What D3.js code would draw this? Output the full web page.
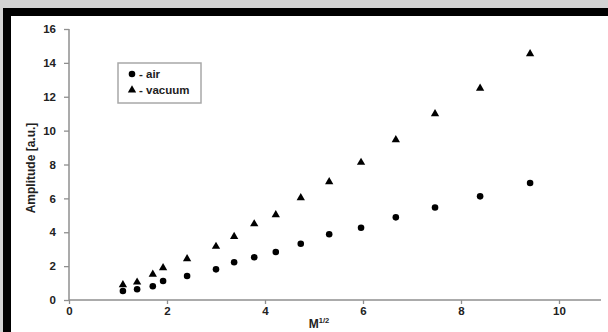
<!DOCTYPE html>
<html><head><meta charset="utf-8">
<script src="https://cdn.jsdelivr.net/npm/d3@7"></script>
<style>html,body{margin:0;padding:0;background:#d3d3d3;}svg{display:block;}</style>
</head><body>
<svg id="chart" width="608" height="332"></svg>
<script>
const xValues = [1.10,1.39,1.71,1.92,2.41,3.00,3.37,3.78,4.22,4.73,5.31,5.96,6.67,7.47,8.39,9.41];
const airValues = [0.53,0.63,0.81,1.12,1.42,1.81,2.23,2.52,2.83,3.32,3.88,4.27,4.88,5.46,6.12,6.91];
const vacuumValues = [0.93,1.08,1.55,1.93,2.46,3.19,3.78,4.52,5.06,6.06,7.01,8.15,9.49,11.02,12.53,14.56];
const xTicks = [0,2,4,6,8,10];
const yTicks = [0,2,4,6,8,10,12,14,16];
const seriesNames = ["air","vacuum"];

const svg = d3.select("#chart");
svg.append("rect").attr("x",0).attr("y",0).attr("width",608).attr("height",332).attr("fill","#d3d3d3");
svg.append("rect").attr("x",3).attr("y",8).attr("width",605).attr("height",324).attr("fill","#000");
svg.append("rect").attr("x",11).attr("y",16).attr("width",597).attr("height",316).attr("fill","#fff");

const x = d3.scaleLinear().domain([0,10]).range([69,559]);
const y = d3.scaleLinear().domain([0,16]).range([300,29]);

const axisColor = "#8f8f8f";
const textColor = "#222";
const font = "'Liberation Sans', Arial, sans-serif";

// Axes
const xAxis = svg.append("g").attr("transform","translate(0,300)")
  .call(d3.axisBottom(x).tickValues(xTicks).tickSize(4).tickPadding(3).tickSizeOuter(0));
const yAxis = svg.append("g").attr("transform","translate(69,0)")
  .call(d3.axisLeft(y).tickValues(yTicks).tickSize(5).tickPadding(8).tickSizeOuter(0));
[xAxis,yAxis].forEach(g=>{
  g.select(".domain").remove();
  g.selectAll(".tick line").attr("stroke",axisColor).attr("stroke-width",1.3);
  g.selectAll(".tick text").attr("fill",textColor).attr("font-family",font)
    .attr("font-weight","bold").attr("font-size",11.5);
});
svg.append("line").attr("x1",69).attr("x2",601).attr("y1",300).attr("y2",300)
  .attr("stroke",axisColor).attr("stroke-width",1.5);
svg.append("line").attr("x1",69).attr("x2",69).attr("y1",y(16)).attr("y2",300)
  .attr("stroke",axisColor).attr("stroke-width",1.5);

// Axis titles
svg.append("text").attr("transform","translate(35,168) rotate(-90)")
  .attr("text-anchor","middle").attr("fill",textColor).attr("font-family",font)
  .attr("font-weight","bold").attr("font-size",12).text("Amplitude [a.u.]");
const xt = svg.append("text").attr("x",319).attr("y",328).attr("text-anchor","middle")
  .attr("fill",textColor).attr("font-family",font).attr("font-weight","bold").attr("font-size",12);
xt.append("tspan").text("M");
xt.append("tspan").attr("font-size",7.5).attr("dy",-5).text("1/2");

// Points
const circle = d3.symbol().type(d3.symbolCircle).size(34);
const tri = d3.symbol().type(d3.symbolTriangle).size(30);
svg.append("g").selectAll("path").data(xValues.map((v,i)=>[v,airValues[i]])).join("path")
  .attr("d",circle).attr("transform",d=>`translate(${x(d[0])},${y(d[1])})`).attr("fill","#000");
svg.append("g").selectAll("path").data(xValues.map((v,i)=>[v,vacuumValues[i]])).join("path")
  .attr("d",tri).attr("transform",d=>`translate(${x(d[0])},${y(d[1])+0.5})`).attr("fill","#000");

// Legend
svg.append("rect").attr("x",118).attr("y",63).attr("width",83).attr("height",40)
  .attr("fill","#fff").attr("stroke","#a8a8a8").attr("stroke-width",1.5);
const leg = svg.append("g");
leg.append("path").attr("d",circle).attr("transform","translate(132,74)").attr("fill","#000");
leg.append("path").attr("d",tri).attr("transform","translate(132,90)").attr("fill","#000");
leg.append("text").attr("x",139).attr("y",78).attr("fill",textColor).attr("font-family",font)
  .attr("font-weight","bold").attr("font-size",11.5).text("- " + seriesNames[0]);
leg.append("text").attr("x",139).attr("y",94).attr("fill",textColor).attr("font-family",font)
  .attr("font-weight","bold").attr("font-size",11.5).text("- " + seriesNames[1]);
</script>
</body></html>
